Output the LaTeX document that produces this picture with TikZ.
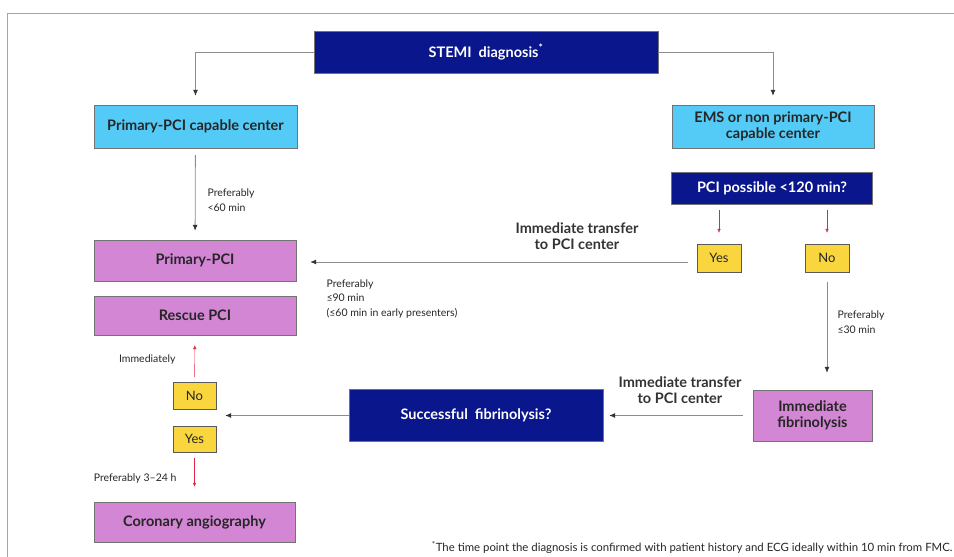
\documentclass[tikz,border=0pt]{standalone}
\usepackage{fontspec}
\setmainfont{Lato}
\usetikzlibrary{arrows.meta,calc}
\definecolor{navy}{RGB}{10,22,140}
\definecolor{sky}{RGB}{84,202,246}
\definecolor{orchid}{RGB}{210,134,212}
\definecolor{gold}{RGB}{250,214,62}
\definecolor{redline}{RGB}{222,40,70}
\begin{document}
\begin{tikzpicture}[x=1pt,y=-1pt,
    box/.style={draw=black!55, inner sep=0pt, align=center, font=\bfseries\fontsize{14.5}{16}\selectfont},
    dark/.style={box, fill=navy, text=white},
    light/.style={box, fill=sky, text=black!85},
    pink/.style={box, fill=orchid, text=black!85},
    yn/.style={box, fill=gold, draw=black!65, text=black!85, minimum width=44pt, minimum height=28pt, font=\fontsize{13}{15}\selectfont},
    note/.style={font=\fontsize{10.5}{14.5}\selectfont, align=left, text=black!85},
    gline/.style={draw=black!45, thick, -{Latex[length=6pt,width=5pt,color=black!80]}},
    rline/.style={draw=redline, -{Latex[length=4pt,width=3.5pt]}}]
  \useasboundingbox (0,0) rectangle (954,557);
  \draw[black!35, thick] (954,13) -- (7,13) -- (7,557);

  \node (stemi) [dark, minimum width=344pt, minimum height=42pt] at (486,52) {STEMI\ \ diagnosis\textsuperscript{*}};
  \node (cap) [light, minimum width=203pt, minimum height=43pt] at (195.5,126.5) {Primary-PCI capable center};
  \node (ems) [light, minimum width=202pt, minimum height=43pt] at (773,126.5) {EMS or non primary-PCI\\capable center};
  \node (poss) [dark, minimum width=201pt, minimum height=32pt] at (772,188) {PCI possible <120 min?};
  \node (yesr) [yn] at (719,258) {Yes};
  \node (nor) [yn] at (827,258) {No};
  \node (ppci) [pink, minimum width=202pt, minimum height=41pt] at (195,260.5) {Primary-PCI};
  \node (rescue) [pink, minimum width=202pt, minimum height=39pt] at (195,315.5) {Rescue PCI};
  \node (fibr) [pink, minimum width=119pt, minimum height=51pt] at (812.5,415.5) {Immediate\\fibrinolysis};
  \node (succ) [dark, minimum width=254pt, minimum height=52pt] at (476,415.5) {Successful\ \ fibrinolysis?};
  \node (nol) [yn, minimum width=43pt, minimum height=27pt] at (194.5,395.5) {No};
  \node (yesl) [yn, minimum width=43pt, minimum height=26pt] at (194.5,439) {Yes};
  \node (coro) [pink, minimum width=201pt, minimum height=40pt] at (194.5,522) {Coronary angiography};

  \draw[gline] (stemi.west) -| ([yshift=9pt]cap.north);
  \draw[gline] (stemi.east) -| ([yshift=9pt]ems.north);
  \draw[gline, shorten <=7pt, shorten >=9pt] (cap) -- (ppci);
  \draw[rline, shorten <=6pt, shorten >=11pt] (poss.south -| yesr) -- (yesr);
  \draw[rline, shorten <=6pt, shorten >=11pt] (poss.south -| nor) -- (nor);
  \draw[gline, shorten <=9pt, shorten >=14pt] ([yshift=-4pt]yesr.west) -- ([yshift=-4pt]yesr.west -| ppci.east);
  \draw[gline, shorten <=10pt, shorten >=17pt] (nor) -- (nor |- fibr.north);
  \draw[gline, shorten <=10pt, shorten >=6pt] (fibr) -- (succ);
  \draw[gline, shorten >=9pt] (succ.west) -- (succ.west -| nol.east);
  \draw[rline, shorten <=5pt, shorten >=10pt] (nol) -- (rescue);
  \draw[rline, shorten <=6pt, shorten >=15pt] (yesl) -- (coro);

  \node (l60) [note, anchor=west] at (204,200) {Preferably\\<60 min};
  \node (tr1) [box, draw=none, text=black!80] at (577,236) {Immediate transfer\\to PCI center};
  \node (l90) [note, anchor=west] at (323,299) {Preferably\\≤90 min\\(≤60 min in early presenters)};
  \node (l30) [note, anchor=west] at (834,322) {Preferably\\≤30 min};
  \node (tr2) [box, draw=none, text=black!80] at (680,390) {Immediate transfer\\to PCI center};
  \node (imm) [note, anchor=east] at (179,360) {Immediately};
  \node (l324) [note, anchor=east] at (180,479) {Preferably 3–24 h};
  \node (foot) [note, anchor=east, font=\fontsize{11.4}{13}\selectfont] at (956,548) {\textsuperscript{*}The time point the diagnosis is confirmed with patient history and ECG ideally within 10 min from FMC.};
\end{tikzpicture}
\end{document}
